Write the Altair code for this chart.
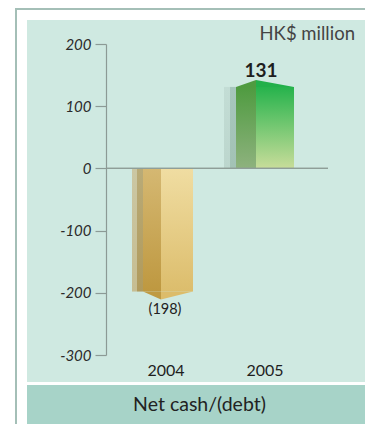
import altair as alt
import pandas as pd

# ---- data ----
years = ["2004", "2005"]
values = [-198, 131]
value_labels = ["(198)", "131"]
y_ticks = [-300, -200, -100, 0, 100, 200]
unit_label = "HK$ million"
chart_title = "Net cash/(debt)"

df = pd.DataFrame({"year": years, "value": values, "label": value_labels})

FONT = "Lato"
W, H = 224, 311
PAD = {"left": 98, "top": 36, "right": 35, "bottom": 69}
BOTTOM = H + PAD["bottom"]

y_scale = alt.Scale(domain=[-300, 200], nice=False, zero=False)

x_enc = alt.X(
    "year:N",
    scale=alt.Scale(domain=years, paddingInner=0, paddingOuter=0.1313, align=0.404),
    axis=alt.Axis(title=None, labelAngle=0, domain=False, ticks=False, labelPadding=7,
                  labelFontSize=16, labelColor="#1e1e1e", labelFont=FONT, zindex=2),
)
y_enc = alt.Y(
    "value:Q",
    scale=y_scale,
    axis=alt.Axis(values=y_ticks, title=None, grid=False, tickSize=11, labelPadding=4,
                  labelExpr="'' + datum.value",
                  labelFontStyle="italic", labelFontSize=15, labelColor="#2a2a2a",
                  labelFont=FONT, domainColor="#8c9a95", tickColor="#8c9a95",
                  domainWidth=1.2, tickWidth=1.2, zindex=2),
)

one = alt.Data(values=[{}])


def rect(x1, x2, y1, y2, color):
    return alt.Chart(one).mark_rect(color=color).encode(
        x=alt.value(x1), x2=alt.value(x2), y=alt.value(y1), y2=alt.value(y2))


layers = [
    rect(-79, 259, -24, 338, "#cfe9e1"),      # panel
    rect(-79, 259, 341, BOTTOM, "#a7d3c8"),   # bottom band
    rect(-91, 259, -36, -34, "#a4bfb7"),      # frame top
    rect(-91, -89, -36, BOTTOM, "#a4bfb7"),   # frame left
]

base = alt.Chart(df)


def grad(c1, c2):
    return alt.Gradient(gradient="linear",
                        stops=[alt.GradientStop(color=c1, offset=0),
                               alt.GradientStop(color=c2, offset=1)],
                        x1=0, x2=0, y1=0, y2=1)


# faces: (xOffset, width, top colour, bottom colour)
faces = {
    "2004": [(-31.5, 5, "#cbc7a3", "#c6bd92"),
             (-26, 6, "#b9ab78", "#b09a5c"),
             (-14, 18, "#d5b872", "#be9840"),
             (11, 32, "#f0dda2", "#dcbd6c")],
    "2005": [(-38, 6, "#c3ddd5", "#bcd6cd"),
             (-32, 6, "#a6c6bd", "#a3c2b5"),
             (-19, 20, "#4f9b40", "#8eb27e"),
             (10, 38, "#26b34c", "#c8dd9a")],
}
caps = {
    "2004": [(-14, "M-1,0 L1,0 L1,0.89 Z", 324, "#bf9a42"),
             (11, "M-1,0 L1,0 L-1,0.5 Z", 1024, "#dcbc6a")],
    "2005": [(-19, "M-1,0 L1,-0.7 L1,0 Z", 400, "#4f9b40"),
             (10, "M-1,-0.368 L1,0 L-1,0 Z", 1444, "#22b04a")],
}

for yr in years:
    for off, w, c1, c2 in faces[yr]:
        layers.append(
            base.transform_filter(alt.datum.year == yr)
            .mark_bar(width=w, xOffset=off, color=grad(c1, c2))
            .encode(x=x_enc, y=y_enc, y2=alt.datum(0))
        )
    for off, path, size, col in caps[yr]:
        layers.append(
            base.transform_filter(alt.datum.year == yr)
            .mark_point(shape=path, size=size, xOffset=off, filled=True, fill=col,
                        stroke=col, strokeWidth=0, opacity=1)
            .encode(x=x_enc, y=y_enc)
        )

# zero line
layers.append(
    base.mark_rule(color="#8f9e98", strokeWidth=1.3).encode(
        y=alt.datum(0), x=alt.value(0), x2=alt.value(222))
)

layers.append(
    base.transform_filter("datum.value >= 0")
    .mark_text(font=FONT, fontSize=19, fontWeight="bold", color="#1e1e1e",
               baseline="alphabetic", dx=-4, dy=-10)
    .encode(x=x_enc, y=y_enc, text="label:N")
)
layers.append(
    base.transform_filter("datum.value < 0")
    .mark_text(font=FONT, fontSize=14.5, color="#222", baseline="top", dx=-1, dy=11)
    .encode(x=x_enc, y=y_enc, text="label:N")
)
layers.append(
    alt.Chart(one).mark_text(font=FONT, fontSize=18.5, color="#444", align="right",
                             baseline="alphabetic", text=unit_label)
    .encode(x=alt.value(249), y=alt.value(-4.5))
)
layers.append(
    alt.Chart(one).mark_text(font=FONT, fontSize=19.5, color="#222", align="center",
                             baseline="middle", text=chart_title)
    .encode(x=alt.value(93.5), y=alt.value(361))
)

chart = alt.layer(*layers).properties(
    width=W, height=H,
    autosize=alt.AutoSizeParams(type="none"),
    padding=PAD,
    background="white",
).configure_view(stroke=None)

chart.save("out.html", embed_options={"renderer": "svg", "actions": False})
